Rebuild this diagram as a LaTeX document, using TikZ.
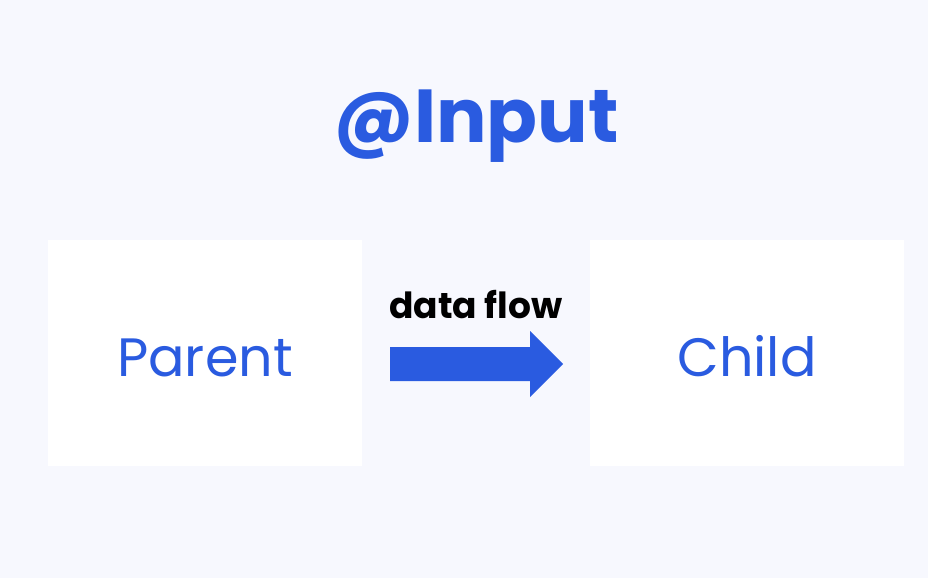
\documentclass[tikz,border=0pt]{standalone}
\usepackage{fontspec}
\setmainfont{Poppins}
\definecolor{bgc}{HTML}{F7F8FE}
\definecolor{blu}{HTML}{2A5BE0}
\begin{document}
\begin{tikzpicture}[x=1pt,y=-1pt,
  box/.style={fill=white,draw=none,minimum width=314pt,minimum height=226pt,inner sep=0pt},
  lbl/.style={text=blu,font=\fontsize{54}{54}\selectfont,inner sep=0pt,anchor=base}]
\fill[bgc] (0,0) rectangle (928,578);
\useasboundingbox (0,0) rectangle (928,578);
\node[text=blu,font=\fontsize{75}{75}\selectfont\bfseries,inner sep=0pt,anchor=base] (title) at (476,142) {@Input};
\node[box] (parent) at (205,353) {};
\node[box] (child) at (747,353) {};
\node[lbl] (ptext) at (205,376) {Parent};
\node[lbl] (ctext) at (747,376) {Child};
\node[font=\fontsize{36}{36}\selectfont\bfseries,inner sep=0pt,anchor=base] (flow) at (476,318) {data flow};
\fill[blu] (390,347) -- (530,347) -- (530,331) -- (563,364) -- (530,397) -- (530,381) -- (390,381) -- cycle;
\end{tikzpicture}
\end{document}
